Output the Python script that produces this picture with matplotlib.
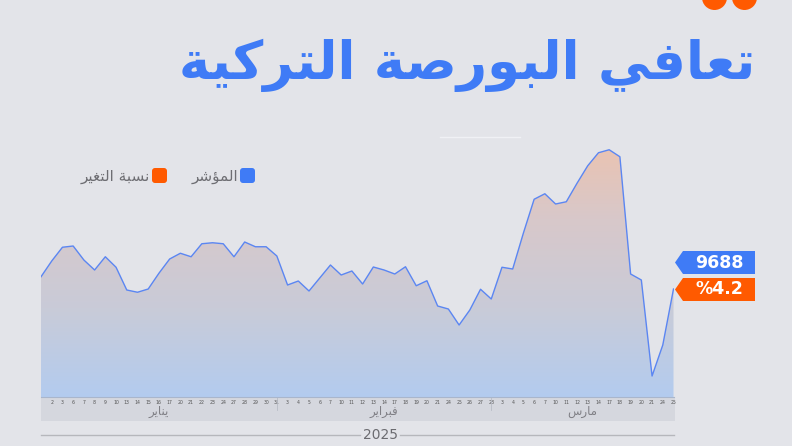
import matplotlib
matplotlib.use("Agg")
import matplotlib.pyplot as plt
import numpy as np
from matplotlib.patches import Polygon, Rectangle, FancyBboxPatch, Circle
from matplotlib.lines import Line2D
from matplotlib.transforms import IdentityTransform
from matplotlib.colors import LinearSegmentedColormap

# ==========================================
# Daten
# ==========================================
title = "تعافي البورصة التركية"
legend_labels = ["المؤشر", "نسبة التغير"]
months = ["يناير", "فبراير", "مارس"]
year_label = "2025"
last_value_label = "9688"
change_label = "%4.2"

day_labels = ["",
              "2", "3", "6", "7", "8", "9", "10", "13", "14", "15", "16", "17",
              "20", "21", "22", "23", "24", "27", "28", "29", "30", "31",
              "3", "4", "5", "6", "7", "10", "11", "12", "13", "14", "17", "18",
              "19", "20", "21", "24", "25", "26", "27", "28",
              "3", "4", "5", "6", "7", "10", "11", "12", "13", "14", "17", "18",
              "19", "20", "21", "24", "25"]

index_values = [9786, 9912, 10022, 10032, 9920, 9840, 9946, 9862, 9680, 9662,
                9688, 9814, 9928, 9974, 9946, 10050, 10058, 10050, 9946, 10064,
                10026, 10026, 9952, 9720, 9752, 9672, 9776, 9880, 9800, 9832,
                9728, 9864, 9840, 9808, 9866, 9714, 9754, 9552, 9528, 9400,
                9520, 9686, 9608, 9862, 9848, 10136, 10406, 10450, 10368, 10386,
                10534, 10674, 10778, 10802, 10746, 9808, 9760, 8992, 9240, 9688]

month_ends = [22, 42]  # index of last trading day of Jan / Feb

# ==========================================
# Arabische Buchstabenformen (matplotlib shaped nicht selbst)
# ==========================================
FORMS = {
    'ا': ('\uFE8D', '\uFE8E', None, None),
    'ؤ': ('\uFE85', '\uFE86', None, None),
    'ب': ('\uFE8F', '\uFE90', '\uFE91', '\uFE92'),
    'ة': ('\uFE93', '\uFE94', None, None),
    'ت': ('\uFE95', '\uFE96', '\uFE97', '\uFE98'),
    'ر': ('\uFEAD', '\uFEAE', None, None),
    'س': ('\uFEB1', '\uFEB2', '\uFEB3', '\uFEB4'),
    'ش': ('\uFEB5', '\uFEB6', '\uFEB7', '\uFEB8'),
    'ص': ('\uFEB9', '\uFEBA', '\uFEBB', '\uFEBC'),
    'ع': ('\uFEC9', '\uFECA', '\uFECB', '\uFECC'),
    'غ': ('\uFECD', '\uFECE', '\uFECF', '\uFED0'),
    'ف': ('\uFED1', '\uFED2', '\uFED3', '\uFED4'),
    'ك': ('\uFED9', '\uFEDA', '\uFEDB', '\uFEDC'),
    'ل': ('\uFEDD', '\uFEDE', '\uFEDF', '\uFEE0'),
    'م': ('\uFEE1', '\uFEE2', '\uFEE3', '\uFEE4'),
    'ن': ('\uFEE5', '\uFEE6', '\uFEE7', '\uFEE8'),
    'و': ('\uFEED', '\uFEEE', None, None),
    'ي': ('\uFEF1', '\uFEF2', '\uFEF3', '\uFEF4'),
}


def ar(text):
    out = []
    for i, ch in enumerate(text):
        if ch not in FORMS:
            out.append(ch)
            continue
        prev = text[i - 1] if i > 0 else ''
        nxt = text[i + 1] if i + 1 < len(text) else ''
        joins_prev = prev in FORMS and FORMS[prev][2] is not None
        joins_next = nxt in FORMS and FORMS[ch][2] is not None
        iso, fin, ini, med = FORMS[ch]
        if joins_prev and joins_next:
            out.append(med)
        elif joins_prev:
            out.append(fin)
        elif joins_next:
            out.append(ini)
        else:
            out.append(iso)
    return ''.join(reversed(out))


# ==========================================
# Layout (Pixel-Koordinaten, y von oben)
# ==========================================
W, H = 792, 446
bg = '#e3e4e9'
blue = '#3f7bf6'
orange = '#ff5a00'
plt.rcParams['font.family'] = ['DejaVu Sans']

fig = plt.figure(figsize=(W / 100, H / 100), dpi=100)
fig.patch.set_facecolor(bg)
PX = IdentityTransform()


def fy(y):
    return H - y


# Achse: links 41px, rechts 673.5px, unten 397px, oben 130px
x0, x1, yb, yt = 41, 673.5, 397, 130
ax = fig.add_axes([x0 / W, (H - yb) / H, (x1 - x0) / W, (yb - yt) / H])
ax.set_facecolor('none')
ymin, ymax = 8824, 10960
n = len(index_values)
xs = np.arange(n)
ax.set_xlim(0, n - 1)
ax.set_ylim(ymin, ymax)

# Band unter der Achse
fig.add_artist(Rectangle((41, fy(421)), 634, 24, transform=PX,
                         facecolor='#d5d7de', edgecolor='none', zorder=0))

# Verlaufsfüllung
cmap = LinearSegmentedColormap.from_list('g', ['#b3ccef', '#c9cbd8', '#d8c8ca', '#eec2ac'])
grad = np.linspace(0, 1, 256).reshape(-1, 1)
im = ax.imshow(grad, extent=[0, n - 1, ymin, ymax], origin='lower', aspect='auto',
               cmap=cmap, zorder=1)
verts = [(0, ymin)] + list(zip(xs, index_values)) + [(n - 1, ymin)]
clip = Polygon(verts, closed=True, transform=ax.transData, facecolor='none', edgecolor='none')
ax.add_patch(clip)
im.set_clip_path(clip)

ax.plot(xs, index_values, color='#5b86f2', linewidth=1.0, zorder=3)

for s in ['top', 'left', 'right']:
    ax.spines[s].set_visible(False)
ax.spines['bottom'].set_color('#a9b6cc')
ax.spines['bottom'].set_linewidth(0.8)
ax.set_yticks([])
ax.set_xticks(xs)
ax.set_xticklabels(day_labels, fontsize=3.3, color='#555555')
ax.tick_params(axis='x', length=0, pad=2.5)

# Monatstrenner
for m in month_ends:
    ax.plot([m, m], [ymin, ymin - (ymax - ymin) * 0.05], color='#b8bcc6', lw=0.6,
            clip_on=False, zorder=2)

# Monatsnamen
bounds = [0] + month_ends + [n - 1]
for i, name in enumerate(months):
    cx = (bounds[i] + bounds[i + 1]) / 2
    ax.text(cx, ymin - (ymax - ymin) * 0.055, ar(name), ha='center', va='center',
            fontsize=8.5, color='#7f7f85')

# Jahreslinie
fig.add_artist(Line2D([41, 360], [fy(435), fy(435)], transform=PX, color='#b6b7bc', lw=1))
fig.add_artist(Line2D([400, 674], [fy(435), fy(435)], transform=PX, color='#b6b7bc', lw=1))
fig.text(380, fy(435), year_label, transform=PX, ha='center', va='center',
         fontsize=10, color='#6b6b70')

# Titel
fig.text(755, fy(65), ar(title), transform=PX, ha='right', va='center',
         fontsize=38, fontweight='bold', color=blue)

# Deko-Kreise oben rechts
for cx in [714.5, 744.5]:
    fig.add_artist(Circle((cx, fy(-2.5)), 12.5, transform=PX, facecolor=orange,
                          edgecolor='none'))

# feine Linie
fig.add_artist(Line2D([440, 520], [fy(137), fy(137)], transform=PX, color='#f0f1f5', lw=1))

# Legende
for sx, col, lab in [(240, blue, legend_labels[0]), (152, orange, legend_labels[1])]:
    fig.add_artist(FancyBboxPatch((sx + 2, fy(183) + 2), 11, 11, transform=PX,
                                  boxstyle='round,pad=2,rounding_size=3',
                                  facecolor=col, edgecolor='none'))
    fig.text(sx - 2, fy(176), ar(lab), transform=PX, ha='right', va='center',
             fontsize=11, color='#6e6e73')

# Wert-Schilder rechts
for yc, col, lab in [(262.5, blue, last_value_label), (289.5, orange, change_label)]:
    pts = [(675, fy(yc)), (683, fy(yc - 11.5)), (755, fy(yc - 11.5)),
           (755, fy(yc + 11.5)), (683, fy(yc + 11.5))]
    fig.add_artist(Polygon(pts, closed=True, transform=PX, facecolor=col, edgecolor='none'))
    fig.text(719, fy(yc), lab, transform=PX, ha='center', va='center',
             fontsize=12.5, fontweight='bold', color='white')

fig.savefig('out.png', dpi=100, facecolor=fig.get_facecolor())
